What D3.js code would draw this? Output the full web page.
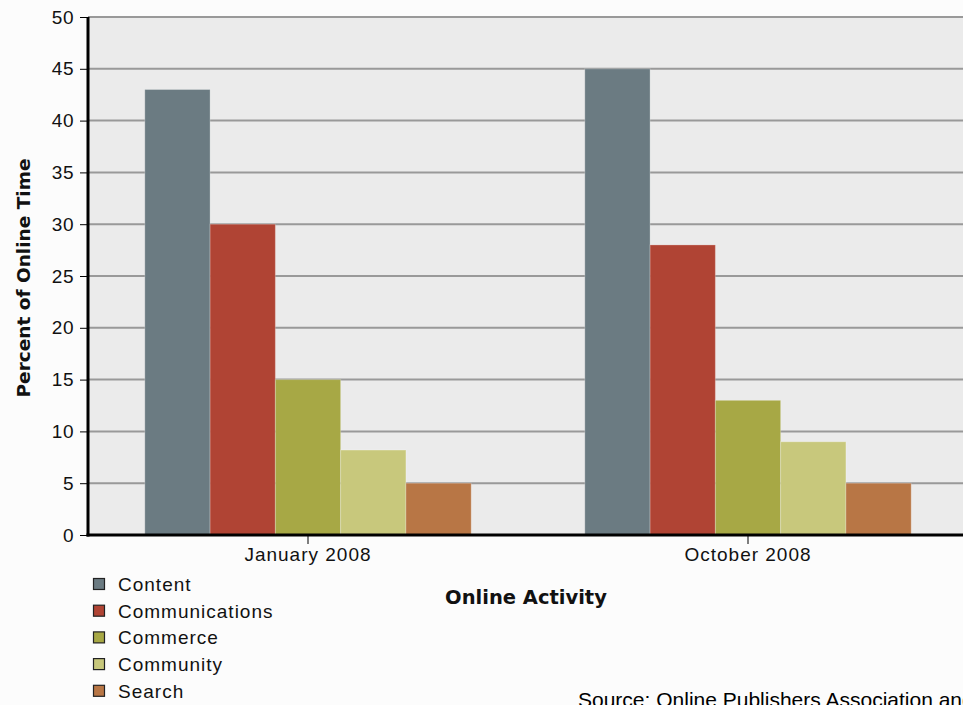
<!DOCTYPE html>
<html><head><meta charset="utf-8">
<script src="https://cdn.jsdelivr.net/npm/d3@7"></script>
<style>body{margin:0;background:#fcfcfc;}svg{display:block;font-family:"Liberation Sans",Arial,sans-serif;}</style>
</head><body>
<script>
const categories = ["January 2008", "October 2008"];
const seriesNames = ["Content", "Communications", "Commerce", "Community", "Search"];
const seriesColors = ["#6b7b82", "#b04434", "#a7a845", "#c8c87c", "#b87645"];
const valuesJan = [43, 30, 15, 8.2, 5];
const valuesOct = [45, 28, 13, 9, 5];
const yTicks = [0, 5, 10, 15, 20, 25, 30, 35, 40, 45, 50];

(function () {
const W = 963, H = 705;
const svg = d3.select("body").append("svg").attr("width", W).attr("height", H);
svg.append("rect").attr("width", W).attr("height", H).attr("fill", "#fcfcfc");

const pL = 88, pT = 17, pB = 535, pR = 968;
const x0 = d3.scaleBand().domain(categories).range([pL, pR]).paddingInner(0).paddingOuter(0);
const x1 = d3.scaleBand().domain(seriesNames).range([0, x0.bandwidth()]).paddingOuter(0.87).paddingInner(0);
const y = d3.scaleLinear().domain([0, 50]).range([pB, pT]);

svg.append("rect").attr("x", pL).attr("y", pT).attr("width", pR - pL).attr("height", pB - pT).attr("fill", "#ebebeb");

svg.append("g").selectAll("line").data(yTicks.filter(d => d > 0)).join("line")
  .attr("x1", pL).attr("x2", pR).attr("y1", d => y(d)).attr("y2", d => y(d))
  .attr("stroke", "#999").attr("stroke-width", 2);

const data = [valuesJan, valuesOct];
categories.forEach((c, i) => {
  svg.append("g").selectAll("rect").data(seriesNames).join("rect")
    .attr("x", s => x0(c) + x1(s))
    .attr("width", x1.bandwidth())
    .attr("y", (s, j) => y(data[i][j]))
    .attr("height", (s, j) => pB - y(data[i][j]))
    .attr("fill", (s, j) => seriesColors[j])
    .attr("stroke", "rgba(255,255,255,0.25)").attr("stroke-width", 1);
});

const tickFont = "'Liberation Sans',Arial,sans-serif";
const yAxis = d3.axisLeft(y).tickValues(yTicks).tickSize(8).tickPadding(6);
const gy = svg.append("g").attr("transform", `translate(${pL},0)`).call(yAxis);
gy.select(".domain").remove();
gy.selectAll(".tick line").attr("stroke", "#000").attr("stroke-width", 1);
gy.selectAll(".tick text").attr("font-size", 19).attr("letter-spacing", 0.5).attr("fill", "#111").attr("font-family", tickFont);
svg.append("line").attr("x1", pL).attr("x2", pL).attr("y1", pT).attr("y2", pB + 1.5).attr("stroke", "#000").attr("stroke-width", 3);

const xAxis = d3.axisBottom(x0).tickSize(9).tickPadding(4);
const gx = svg.append("g").attr("transform", `translate(0,${pB})`).call(xAxis);
gx.select(".domain").remove();
gx.selectAll(".tick line").attr("stroke", "#000").attr("stroke-width", 1);
gx.selectAll(".tick text").attr("font-size", 19).attr("letter-spacing", 1).attr("fill", "#111").attr("font-family", tickFont);
svg.append("line").attr("x1", pL - 1.5).attr("x2", pR).attr("y1", pB).attr("y2", pB).attr("stroke", "#000").attr("stroke-width", 3);

svg.append("text").attr("transform", `translate(30,278) rotate(-90)`).attr("text-anchor", "middle")
  .attr("font-family", "'DejaVu Sans',sans-serif")
  .attr("font-size", 18.5).attr("font-weight", "bold").attr("fill", "#111").text("Percent of Online Time");
svg.append("text").attr("x", 526).attr("y", 604).attr("text-anchor", "middle")
  .attr("font-family", "'DejaVu Sans',sans-serif")
  .attr("font-size", 19.5).attr("font-weight", "bold").attr("fill", "#111").text("Online Activity");

const lg = svg.append("g").selectAll("g").data(seriesNames).join("g")
  .attr("transform", (d, i) => `translate(93,${578 + i * 26.7})`);
lg.append("rect").attr("x", 0.5).attr("y", 0.5).attr("width", 11).attr("height", 11)
  .attr("fill", (d, i) => seriesColors[i]).attr("stroke", "#222").attr("stroke-width", 1.2);
lg.append("text").attr("x", 25).attr("y", 13).attr("font-size", 19).attr("letter-spacing", 1).attr("fill", "#111").text(d => d);

svg.append("text").attr("x", 578).attr("y", 707).attr("font-size", 21).attr("fill", "#000")
  .text("Source: Online Publishers Association and Compete, Inc.");
})();
</script>
</body></html>
